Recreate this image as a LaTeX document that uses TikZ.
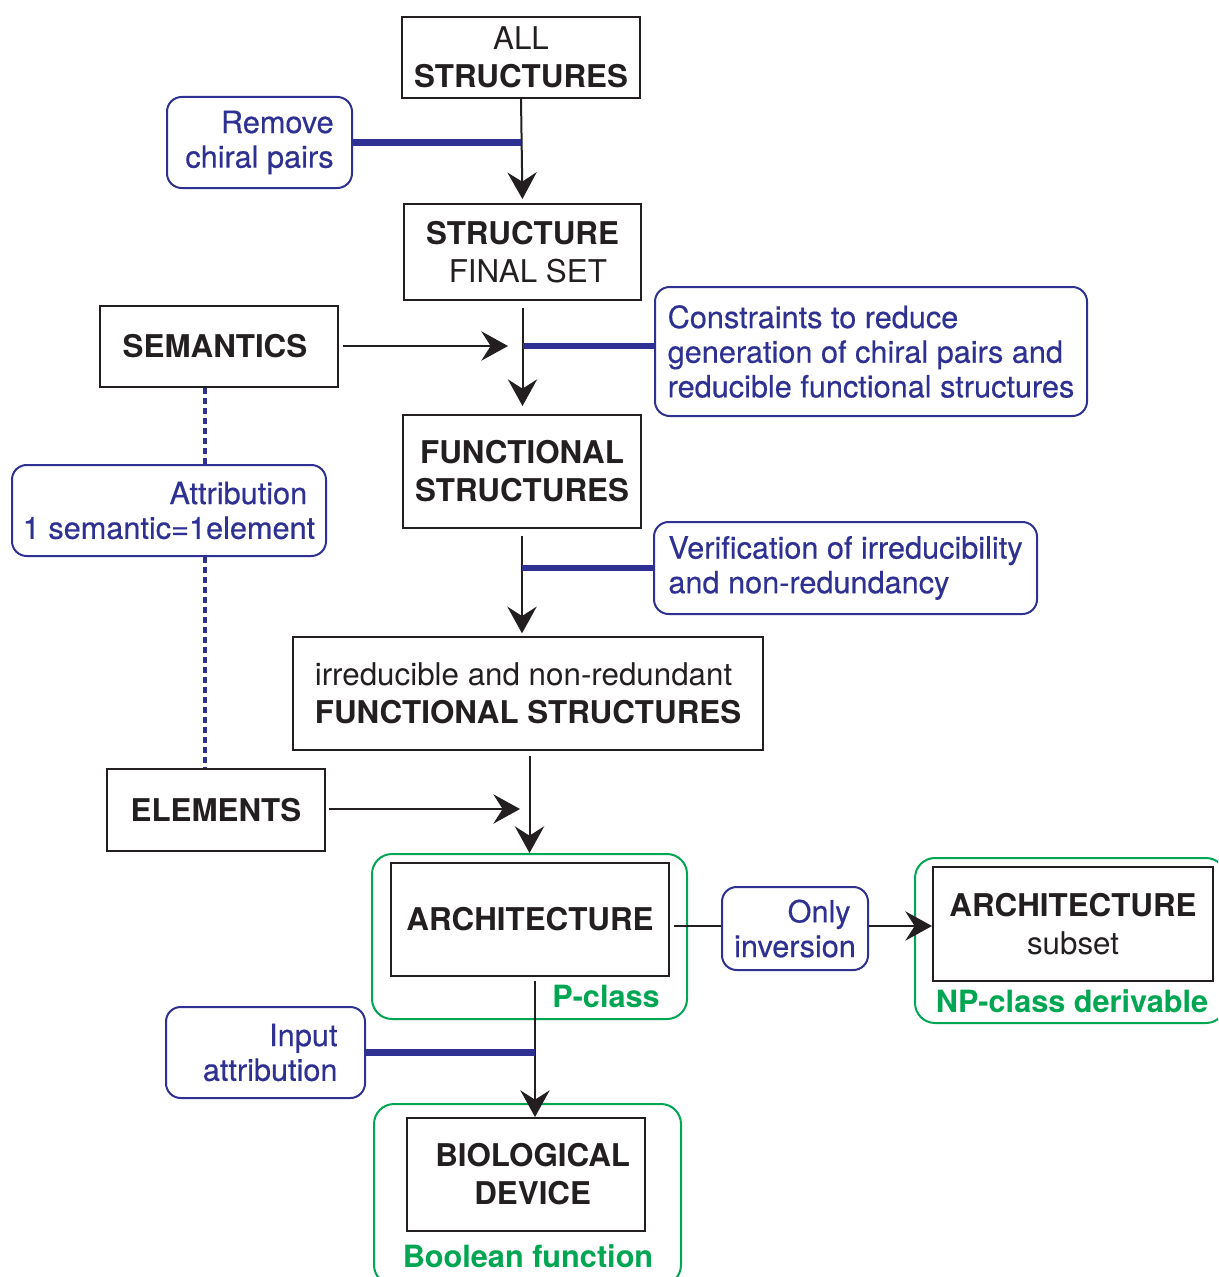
\documentclass[tikz,border=0pt]{standalone}
\usepackage{fontspec}
\setmainfont{TeX Gyre Heros}
\usetikzlibrary{arrows.meta}
\definecolor{nblue}{HTML}{2E3192}
\definecolor{ngreen}{HTML}{00A651}
\definecolor{nblack}{HTML}{231F20}
\begin{document}
\begin{tikzpicture}[x=0.75pt,y=-0.75pt,
 wh/.style 2 args={minimum width=#1*0.75pt,minimum height=#2*0.75pt},
 box/.style={draw=nblack,line width=1.5pt,inner sep=0pt,align=center,text=nblack,font=\fontsize{23.5}{28.5}\selectfont},
 note/.style={draw=nblue,line width=1.5pt,rounded corners=11pt,inner sep=0pt,align=right,text=nblue,font=\fontsize{23}{26}\selectfont\addfontfeature{FakeBold=0.4}},
 grp/.style={draw=ngreen,line width=1.5pt,rounded corners=15pt,inner sep=0pt},
 glabel/.style={text=ngreen,inner sep=0pt,font=\fontsize{23}{26}\selectfont\bfseries},
 arr/.style={draw=nblack,line width=1.5pt,-{Stealth[length=20pt,width=22pt,inset=7pt]}},
 ln/.style={draw=nblack,line width=1.5pt},
 bl/.style={draw=nblue,line width=5pt},
 dotl/.style={draw=nblue,line width=3pt,dash pattern=on 4.5pt off 3pt}]
\useasboundingbox (0,0) rectangle (1218,1277);
\clip (0,0) rectangle (1218,1277);

% green group boxes
\node[grp,wh={315}{165}] (archg) at (529.5,936.5) {};
\node[grp,wh={311}{165}] (npg) at (1070.5,940.5) {};
\node[grp,wh={307}{181}] (biog) at (527.5,1194.5) {};

% main boxes
\node[box,wh={238}{81}] (all) at (521,57.5) {ALL\\\textbf{STRUCTURES}};
\node[box,wh={237}{96}] (sfs) at (522.5,252) {\textbf{STRUCTURE}\\\hspace*{8pt}FINAL SET};
\node[box,wh={238}{81}] (sem) at (219,346.5) {\textbf{SEMANTICS}\hspace*{6pt}};
\node[box,wh={238}{113}] (fs) at (522,471.5) {\textbf{FUNCTIONAL}\\\textbf{STRUCTURES}};
\node[box,wh={470}{113},align=left] (irr) at (528,693.5) {irreducible and non-redundant\\\textbf{FUNCTIONAL STRUCTURES}};
\node[box,wh={218}{82}] (elem) at (216,810) {\textbf{ELEMENTS}};
\node[box,wh={278}{113}] (arch) at (530,919.5) {\textbf{ARCHITECTURE}};
\node[box,wh={280}{114}] (npin) at (1073,924) {\textbf{ARCHITECTURE}\\subset};
\node[box,wh={238}{113}] (bio) at (526,1174.5) {\hspace*{10pt}\textbf{BIOLOGICAL}\\\hspace*{10pt}\textbf{DEVICE}};

% group labels
\node[glabel] (pcl) at (606,996) {P-class};
\node[glabel] (npcl) at (1072,1001) {NP-class derivable};
\node[glabel] (bool) at (528,1256) {Boolean function};

% blue notes
\node[note,wh={185}{91}] (remove) at (259.5,142.5) {Remove\\chiral pairs};
\node[note,wh={432}{129},align=left] (constr) at (871,351.5) {Constraints to reduce\\generation of chiral pairs and\\reducible functional structures};
\node[note,wh={314}{91}] (attr) at (169,510.5) {Attribution\hspace*{6pt}\\1 semantic=1element};
\node[note,wh={383}{92},align=left] (verif) at (845.5,568) {Verification of irreducibility\\and non-redundancy};
\node[note,wh={146}{83}] (only) at (795,928.5) {Only\hspace*{4pt}\\inversion};
\node[note,wh={199}{91}] (input) at (265.5,1052.5) {Input\hspace*{-7pt}\\attribution\hspace*{-7pt}};

% helper coordinates
\coordinate (semend) at (508,346);
\coordinate (elemend) at (520,809);
\coordinate (dx) at (205,0);
\coordinate (ax) at (535,0);
\coordinate (iy) at (0,926);

% connectors
\draw[arr,shorten >=3pt] (all.south) -- (sfs.north);
\draw[bl] (remove.east) -- (remove.east -| all.south);

\draw[arr,shorten <=5pt,shorten >=6pt] (sfs.south) -- (sfs.south |- fs.north);
\draw[arr,shorten <=3pt] (sem.east |- semend) -- (semend);
\draw[bl] (constr.west |- semend) -- (sfs.south |- semend);

\draw[arr,shorten <=5pt,shorten >=2pt] (fs.south) -- (fs.south |- irr.north);
\draw[bl] (verif.west) -- (verif.west -| fs.south);

\draw[arr,shorten <=4pt] (irr.south -| archg.north) -- (archg.north);
\draw[arr,shorten <=2pt] (elem.east |- elemend) -- (elemend);

\draw[dotl] (sem.south -| dx) -- (attr.north -| dx);
\draw[dotl] (attr.south -| dx) -- (elem.north -| dx);

\draw[ln,shorten <=3pt] (arch.east |- iy) -- (only.west |- iy);
\draw[arr] (only.east |- iy) -- (npin.west |- iy);

\draw[arr,shorten <=3pt] (arch.south -| ax) -- (bio.north -| ax);
\draw[bl] (input.east) -- (input.east -| ax);
\end{tikzpicture}
\end{document}
